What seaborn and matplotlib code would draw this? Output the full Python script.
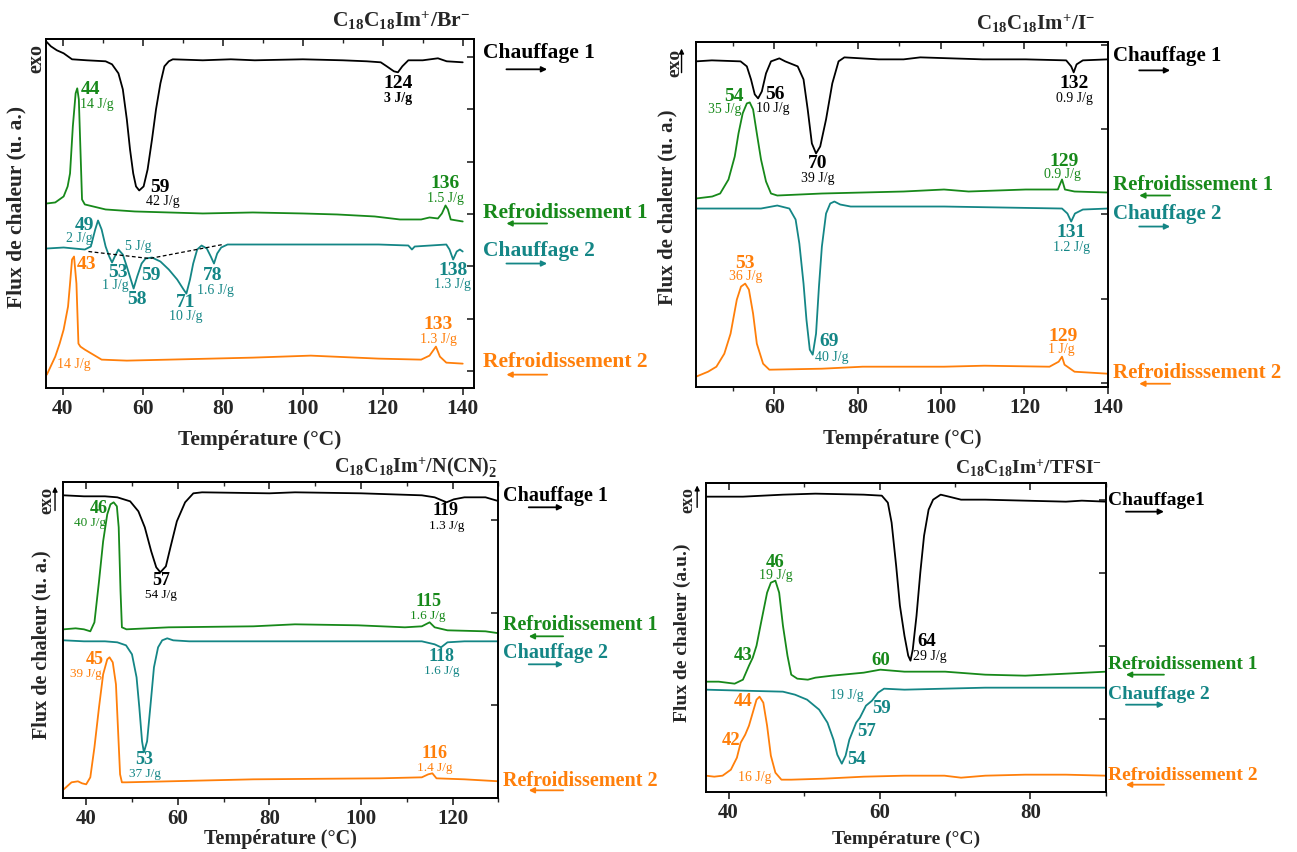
import numpy as np
import pandas as pd
import matplotlib
matplotlib.use("Agg")
import matplotlib.pyplot as plt
import seaborn as sns

# --- style ---
sns.set_style("ticks")
plt.rcParams['font.family'] = ['Liberation Serif', 'DejaVu Serif']
plt.rcParams['font.weight'] = 'bold'
plt.rcParams['axes.labelweight'] = 'bold'
plt.rcParams['mathtext.fontset'] = 'custom'
plt.rcParams['mathtext.rm'] = 'Liberation Serif:bold'
plt.rcParams['mathtext.it'] = 'Liberation Serif:bold'
plt.rcParams['mathtext.bf'] = 'Liberation Serif:bold'
plt.rcParams['mathtext.default'] = 'rm'

COLORS = {"c1": "#000000", "r1": "#17891a", "c2": "#148686", "r2": "#ff7f0a"}

# ============ data (temperature in °C, heat flow in arbitrary units) ============
# --- C18C18Im+/Br- ---
br_c1_T = [35.8, 37.0, 38.5, 40.2, 42.3, 46.0, 50.7, 52.3, 53.9, 55.0, 56.0, 56.8, 57.6, 58.3, 59.1, 60.2,
           61.2, 62.3, 63.3, 64.4, 65.4, 66.5, 67.5, 75.0, 82.0, 88.0, 100.0, 110.0, 116.0, 119.5, 121.0,
           122.8, 123.8, 124.9, 126.4, 130.0, 133.8, 136.0, 140.0]
br_c1_y = [346, 341, 337, 334, 328, 327, 326, 323, 314, 298, 268, 238, 214, 201, 197, 201,
           218, 248, 278, 304, 321, 326, 328, 327, 328, 327, 328, 327, 326, 325, 321,
           316, 315, 321, 327, 327, 329, 326, 325]
br_r1_T = [36.0, 38.1, 40.2, 41.2, 41.8, 42.5, 43.2, 43.6, 44.0, 44.4, 44.8, 45.5, 50.7, 58.0, 66.5, 75.0,
           87.5, 100.0, 108.6, 118.0, 124.3, 129.6, 131.7, 133.8, 134.8, 135.7, 136.3, 137.0, 140.0]
br_r1_y = [184, 185, 191, 201, 214, 261, 294, 299, 288, 238, 188, 183, 178, 176, 175, 174,
           175, 174, 173, 171, 168, 168, 170, 169, 174, 182, 178, 168, 166]
br_c2_T = [36.0, 40.2, 45.5, 47.0, 48.1, 48.8, 49.7, 50.7, 51.6, 52.3, 53.0, 53.9, 55.0, 56.0, 57.0, 57.7,
           58.6, 59.7, 60.7, 62.3, 64.4, 66.5, 68.6, 70.2, 70.9, 71.8, 72.6, 73.6, 74.7, 76.0, 77.0, 77.8,
           78.6, 79.6, 81.2, 98.0, 119.0, 126.4, 127.3, 128.0, 135.9, 136.7, 137.6, 138.5, 139.3, 140.0]
br_c2_y = [139, 140, 138, 141, 158, 167, 158, 141, 131, 125, 131, 138, 133, 121, 108, 99,
           111, 124, 129, 130, 126, 118, 108, 98, 94, 108, 124, 138, 142, 139, 131, 124,
           134, 140, 143, 143, 143, 142, 138, 141, 143, 138, 128, 136, 138, 136]
br_r2_T = [36.0, 38.1, 39.2, 40.2, 41.3, 41.8, 42.3, 42.8, 43.4, 43.9, 44.4, 45.5, 47.6, 49.7, 56.0, 66.5,
           77.0, 87.5, 102.0, 119.0, 129.6, 131.7, 133.3, 134.3, 135.9, 140.0]
br_r2_y = [13, 31, 44, 58, 81, 104, 128, 131, 104, 44, 41, 38, 33, 28, 27, 28,
           29, 30, 32, 29, 28, 32, 41, 31, 25, 24]
br_base_T = [46.4, 61.7, 80.0]
br_base_y = [136, 129, 143]

# --- C18C18Im+/I- ---
i_c1_T = [41.2, 45.0, 51.9, 53.4, 54.4, 55.3, 56.1, 57.0, 58.0, 59.2, 61.2, 62.6, 65.6, 67.0, 68.0, 69.0,
          70.0, 71.0, 72.4, 73.9, 75.4, 76.8, 85.0, 91.0, 95.0, 110.0, 120.3, 130.0, 131.2, 131.8, 132.5,
          134.0, 140.0]
i_c1_y = [325, 326, 325, 320, 307, 292, 288, 295, 313, 325, 328, 325, 320, 307, 277, 243,
          233, 240, 267, 303, 325, 329, 327, 327, 329, 327, 327, 326, 320, 314, 322,
          326, 327]
i_r1_T = [41.2, 45.1, 47.0, 49.0, 50.5, 51.4, 52.4, 53.4, 54.1, 54.9, 55.8, 56.8, 58.0, 59.2, 60.7, 71.4,
          81.2, 91.0, 100.7, 106.6, 120.3, 128.0, 129.0, 129.7, 132.0, 140.0]
i_r1_y = [188, 190, 193, 207, 230, 253, 273, 283, 284, 277, 253, 227, 205, 193, 191, 193,
          194, 195, 197, 195, 197, 197, 207, 197, 195, 194]
i_c2_T = [41.2, 56.8, 60.7, 63.6, 65.1, 66.0, 67.0, 67.7, 68.5, 69.2, 70.0, 70.7, 71.4, 72.4, 73.4, 74.4,
          75.8, 78.3, 100.7, 129.0, 130.3, 131.2, 132.1, 134.0, 140.0]
i_c2_y = [178, 178, 181, 178, 167, 143, 103, 67, 37, 32, 53, 100, 140, 173, 183, 185,
          182, 180, 180, 178, 173, 165, 173, 177, 178]
i_r2_T = [41.2, 44.1, 46.1, 48.0, 49.5, 51.0, 52.0, 53.0, 53.9, 54.9, 55.8, 57.3, 58.8, 71.4, 81.2, 100.7,
          110.4, 126.0, 128.2, 129.0, 129.6, 132.0, 140.0]
i_r2_y = [10, 15, 20, 33, 53, 87, 100, 103, 97, 73, 43, 23, 17, 18, 20, 20,
          21, 20, 25, 30, 22, 15, 13]

# --- C18C18Im+/N(CN)2- ---
n_c1_T = [35.1, 39.5, 44.1, 46.8, 49.6, 51.4, 52.8, 54.2, 55.3, 56.2, 57.4, 58.4, 59.8, 61.6, 63.4, 65.3,
          80.0, 85.6, 100.0, 113.3, 116.1, 118.7, 120.3, 122.6, 127.2, 130.2]
n_c1_y = [303, 302, 302, 301, 297, 287, 271, 247, 231, 226, 232, 251, 277, 296, 305, 306,
          305, 306, 305, 303, 301, 296, 299, 301, 301, 297]
n_r1_T = [35.1, 37.7, 39.5, 40.9, 41.8, 42.8, 43.7, 44.6, 45.3, 46.0, 46.7, 47.1, 47.5, 47.8, 48.8, 58.0,
          76.5, 85.6, 99.4, 109.6, 113.3, 115.0, 116.1, 118.9, 127.2, 130.2]
n_r1_y = [169, 170, 169, 167, 176, 217, 257, 284, 294, 296, 292, 271, 207, 171, 169, 171,
          172, 174, 173, 171, 172, 176, 171, 168, 167, 165]
n_c2_T = [35.1, 39.5, 44.1, 46.8, 48.7, 50.0, 51.0, 51.6, 52.2, 52.6, 53.3, 54.0, 54.8, 55.7, 56.6, 57.7,
          59.0, 62.5, 85.6, 113.3, 116.1, 117.5, 118.9, 122.6, 130.2]
n_c2_y = [158, 157, 157, 156, 153, 144, 121, 91, 57, 46, 57, 91, 131, 151, 158, 160,
          158, 157, 157, 157, 154, 151, 156, 157, 157]
n_r2_T = [35.1, 36.8, 38.2, 39.1, 40.0, 40.9, 41.8, 42.8, 43.7, 44.6, 45.1, 45.8, 46.5, 46.9, 47.4, 47.8,
          48.8, 58.0, 76.5, 104.2, 113.3, 114.7, 115.6, 116.5, 122.6, 130.2]
n_r2_y = [9, 16, 17, 15, 14, 21, 51, 91, 124, 139, 141, 136, 114, 74, 24, 16,
          16, 17, 19, 20, 21, 24, 25, 20, 19, 17]

# --- C18C18Im+/TFSI- ---
t_c1_T = [37.0, 41.9, 47.2, 51.5, 57.9, 60.3, 61.1, 61.6, 62.2, 62.7, 63.3, 63.8, 64.1, 64.4, 64.9, 65.4,
          65.9, 66.5, 67.1, 68.1, 69.2, 70.8, 74.0, 79.3, 84.7, 86.8, 90.0]
t_c1_y = [295, 295, 297, 298, 297, 296, 289, 269, 226, 186, 156, 136, 131, 142, 176, 219,
          256, 282, 292, 297, 295, 292, 292, 291, 290, 291, 290]
t_r1_T = [37.0, 38.7, 40.8, 41.9, 42.7, 43.2, 43.7, 44.3, 45.1, 45.6, 46.2, 46.7, 47.2, 47.8, 48.3, 49.1,
          50.5, 51.5, 53.7, 57.9, 60.1, 63.3, 68.7, 74.0, 79.3, 84.7, 90.0]
t_r1_y = [110, 110, 108, 112, 126, 134, 146, 169, 199, 209, 211, 199, 166, 136, 117, 113,
          112, 114, 116, 119, 122, 120, 120, 117, 116, 118, 120]
t_c2_T = [37.0, 41.9, 47.2, 48.8, 50.4, 52.0, 53.1, 53.9, 54.4, 55.0, 55.5, 56.0, 56.9, 57.4, 58.2, 59.0,
          59.8, 60.6, 63.3, 68.6, 74.0, 84.7, 90.0]
t_c2_y = [102, 101, 100, 97, 92, 82, 69, 52, 37, 28, 36, 52, 69, 74, 86, 91,
          99, 103, 102, 103, 104, 104, 104]
t_r2_T = [37.0, 38.1, 39.2, 40.3, 41.1, 41.6, 42.2, 42.7, 43.2, 43.7, 44.1, 44.6, 45.1, 45.6, 46.2, 47.0,
          48.3, 52.6, 57.9, 63.3, 68.6, 70.8, 74.0, 79.3, 84.7, 90.0]
t_r2_y = [16, 15, 16, 22, 34, 49, 57, 66, 79, 92, 95, 89, 66, 36, 19, 12,
          12, 13, 15, 16, 16, 14, 16, 17, 17, 16]

# peak labels: (text, T, y, scan, kind)  kind: n = temperature, j = enthalpy
br_labels = [("124", 123.8, 304, "c1", "n"), ("3 J/g", 123.8, 289, "c1", "jb"),
             ("59", 64.4, 200, "c1", "n"), ("42 J/g", 64.9, 186, "c1", "j"),
             ("44", 47.0, 298, "r1", "n"), ("14 J/g", 48.6, 283, "r1", "j"),
             ("136", 135.7, 204, "r1", "n"), ("1.5 J/g", 135.7, 189, "r1", "j"),
             ("49", 45.5, 162, "c2", "n"), ("2 J/g", 44.2, 149, "c2", "j"),
             ("5 J/g", 58.9, 141, "c2", "j"),
             ("53", 53.7, 115, "c2", "n"), ("1 J/g", 53.0, 102, "c2", "j"),
             ("58", 58.6, 88, "c2", "n"), ("59", 62.0, 112, "c2", "n"),
             ("71", 70.7, 85, "c2", "n"), ("10 J/g", 70.7, 71, "c2", "j"),
             ("78", 77.5, 112, "c2", "n"), ("1.6 J/g", 78.1, 97, "c2", "j"),
             ("138", 137.5, 117, "c2", "n"), ("1.3 J/g", 137.5, 103, "c2", "j"),
             ("43", 46.0, 123, "r2", "n"), ("14 J/g", 42.8, 23, "r2", "j"),
             ("133", 133.8, 63, "r2", "n"), ("1.3 J/g", 133.9, 48, "r2", "j")]
i_labels = [("56", 60.2, 292, "c1", "n"), ("10 J/g", 59.7, 278, "c1", "j"),
            ("70", 70.3, 223, "c1", "n"), ("39 J/g", 70.5, 208, "c1", "j"),
            ("132", 131.8, 303, "c1", "n"), ("0.9 J/g", 132.0, 288, "c1", "j"),
            ("54", 50.4, 290, "r1", "n"), ("35 J/g", 48.1, 277, "r1", "j"),
            ("129", 129.4, 225, "r1", "n"), ("0.9 J/g", 129.2, 212, "r1", "j"),
            ("131", 131.2, 154, "c2", "n"), ("1.2 J/g", 131.2, 139, "c2", "j"),
            ("69", 73.1, 45, "c2", "n"), ("40 J/g", 73.8, 29, "c2", "j"),
            ("53", 52.9, 123, "r2", "n"), ("36 J/g", 53.1, 110, "r2", "j"),
            ("129", 129.2, 50, "r2", "n"), ("1 J/g", 128.9, 37, "r2", "j")]
n_labels = [("57", 56.4, 218, "c1", "n"), ("54 J/g", 56.4, 203, "c1", "j"),
            ("119", 118.4, 288, "c1", "n"), ("1.3 J/g", 118.8, 272, "c1", "j"),
            ("46", 42.8, 290, "r1", "n"), ("40 J/g", 40.9, 275, "r1", "j"),
            ("115", 114.7, 197, "r1", "n"), ("1.6 J/g", 114.7, 182, "r1", "j"),
            ("118", 117.7, 142, "c2", "n"), ("1.6 J/g", 117.7, 127, "c2", "j"),
            ("53", 52.6, 39, "c2", "n"), ("37 J/g", 52.9, 24, "c2", "j"),
            ("45", 41.8, 139, "r2", "n"), ("39 J/g", 40.0, 124, "r2", "j"),
            ("116", 116.1, 45, "r2", "n"), ("1.4 J/g", 116.1, 30, "r2", "j")]
t_labels = [("64", 66.2, 150, "c1", "n"), ("29 J/g", 66.7, 135, "c1", "j"),
            ("46", 46.2, 229, "r1", "n"), ("19 J/g", 46.2, 216, "r1", "j"),
            ("43", 41.9, 136, "r1", "n"), ("60", 60.1, 131, "r1", "n"),
            ("19 J/g", 55.6, 96, "c2", "j"), ("59", 60.3, 83, "c2", "n"),
            ("57", 58.3, 60, "c2", "n"), ("54", 56.9, 32, "c2", "n"),
            ("44", 41.9, 90, "r2", "n"), ("42", 40.3, 51, "r2", "n"),
            ("16 J/g", 43.5, 14, "r2", "j")]

# scan names on the right: (text, scan, y_text, y_arrow)
br_scans = [("Chauffage 1", "c1", 334, 318), ("Refroidissement 1", "r1", 174, 164),
            ("Chauffage 2", "c2", 137, 124), ("Refroidissement 2", "r2", 26, 13)]
i_scans = [("Chauffage 1", "c1", 330, 316), ("Refroidissement 1", "r1", 202, 191),
           ("Chauffage 2", "c2", 173, 160), ("Refroidisssement 2", "r2", 14, 3)]
n_scans = [("Chauffage 1", "c1", 302, 291), ("Refroidissement 1", "r1", 173, 162),
           ("Chauffage 2", "c2", 145, 134), ("Refroidissement 2", "r2", 17, 8)]
t_scans = [("Chauffage1", "c1", 291, 280), ("Refroidissement 1", "r1", 127, 117),
           ("Chauffage 2", "c2", 97, 87), ("Refroidissement 2", "r2", 16, 7)]


def make_df(curves):
    frames = []
    for scan, (T, y) in curves.items():
        frames.append(pd.DataFrame({"T": T, "flux": y, "scan": scan}))
    return pd.concat(frames, ignore_index=True)


panels = [
    dict(rect=[0.0355, 0.5450, 0.3302, 0.4089], xlim=(35.8, 142.9), ylim=(0, 348), major=20, minor=10,
         df=make_df({"c1": (br_c1_T, br_c1_y), "r1": (br_r1_T, br_r1_y),
                     "c2": (br_c2_T, br_c2_y), "r2": (br_r2_T, br_r2_y)}),
         labels=br_labels, scans=br_scans, yt=np.arange(16.7, 348, 52.3),
         title=r"C$_{18}$C$_{18}$Im$^{+}$/Br$^{-}$", tx=0.99, ty=1.035,
         ylab="Flux de chaleur (u. a.)", ylx=-0.068, yly=0.52, fs=15.5, tfs=15.5, nfs=14, jfs=10,
         exo=(-0.022, 0.946), exo_arrow=None, lx=1.02, ax0=1.075, ax1=1.17, lpad=8),
    dict(rect=[0.5366, 0.5461, 0.3179, 0.4042], xlim=(41.2, 140.1), ylim=(0, 344), major=20, minor=10,
         df=make_df({"c1": (i_c1_T, i_c1_y), "r1": (i_r1_T, i_r1_y),
                     "c2": (i_c2_T, i_c2_y), "r2": (i_r2_T, i_r2_y)}),
         labels=i_labels, scans=i_scans, yt=np.arange(3.3, 344, 84.6),
         title=r"C$_{18}$C$_{18}$Im$^{+}$/I$^{-}$", tx=0.968, ty=1.037,
         ylab="Flux de chaleur (u. a.)", ylx=-0.068, yly=0.52, fs=15.0, tfs=15.0, nfs=14, jfs=10,
         exo=(-0.051, 0.94), exo_arrow=(-0.035, 0.904, 0.99), lx=1.011, ax0=1.075, ax1=1.15, lpad=8),
    dict(rect=[0.0488, 0.0630, 0.3354, 0.3709], xlim=(35.0, 130.0), ylim=(0, 316), major=20, minor=10,
         df=make_df({"c1": (n_c1_T, n_c1_y), "r1": (n_r1_T, n_r1_y),
                     "c2": (n_c2_T, n_c2_y), "r2": (n_r2_T, n_r2_y)}),
         labels=n_labels, scans=n_scans, yt=np.arange(0.3, 316, 92.7),
         title=r"C$_{18}$C$_{18}$Im$^{+}$/N(CN)$_{2}^{-}$", tx=1.0, ty=1.03,
         ylab="Flux de chaleur (u. a.)", ylx=-0.049, yly=0.485, fs=14.5, tfs=15.0, nfs=13, jfs=9.5,
         exo=(-0.038, 0.944), exo_arrow=(-0.019, 0.902, 0.995), lx=1.011, ax0=1.07, ax1=1.149, lpad=0),
    dict(rect=[0.5443, 0.0708, 0.3084, 0.3627], xlim=(37.0, 90.0), ylim=(0, 309), major=20, minor=10,
         df=make_df({"c1": (t_c1_T, t_c1_y), "r1": (t_r1_T, t_r1_y),
                     "c2": (t_c2_T, t_c2_y), "r2": (t_r2_T, t_r2_y)}),
         labels=t_labels, scans=t_scans, yt=np.arange(0, 309, 73),
         title=r"C$_{18}$C$_{18}$Im$^{+}$/TFSI$^{-}$", tx=0.99, ty=1.028,
         ylab="Flux de chaleur (a.u.)", ylx=-0.06, yly=0.514, fs=14.0, tfs=15.0, nfs=13.5, jfs=10,
         exo=(-0.045, 0.944), exo_arrow=(-0.022, 0.911, 1.0), lx=1.004, ax0=1.05, ax1=1.145, lpad=6),
]

fig = plt.figure(figsize=(12.97, 8.52), dpi=100)

for idx, p in enumerate(panels):
    ax = fig.add_axes(p["rect"])
    sns.lineplot(data=p["df"], x="T", y="flux", hue="scan", palette=COLORS, sort=False,
                 estimator=None, legend=False, linewidth=1.3, ax=ax)
    if idx == 0:
        ax.plot(br_base_T, br_base_y, color="black", lw=0.9, ls=(0, (3, 2)))
    ax.set_xlim(*p["xlim"])
    ax.set_ylim(*p["ylim"])
    fs = p["fs"]

    # ticks: bottom outward, top inward, right inward without labels
    ax.xaxis.set_major_locator(plt.MultipleLocator(p["major"]))
    ax.xaxis.set_minor_locator(plt.MultipleLocator(p["minor"]))
    ax.tick_params(axis="x", which="major", direction="out", length=5, width=1.2, labelsize=p["tfs"], pad=3)
    ax.tick_params(axis="x", which="minor", direction="out", length=3, width=1.0)
    for lab in ax.get_xticklabels():
        lab.set_fontweight("bold")
    sec = ax.secondary_xaxis("top")
    sec.xaxis.set_major_locator(plt.MultipleLocator(p["major"]))
    sec.xaxis.set_minor_locator(plt.MultipleLocator(p["minor"]))
    sec.tick_params(axis="x", which="major", direction="in", length=5, width=1.2, labeltop=False)
    sec.tick_params(axis="x", which="minor", direction="in", length=3, width=1.0)
    sec.spines["top"].set_linewidth(1.4)
    ax.yaxis.tick_right()
    ax.set_yticks(p["yt"])
    ax.tick_params(axis="y", direction="in", length=5, width=1.2, labelright=False, labelleft=False)
    for s in ax.spines.values():
        s.set_linewidth(1.4)
        s.set_color("black")

    ax.set_xlabel("Température (°C)", fontsize=fs, fontweight="bold", labelpad=p["lpad"])
    ax.set_ylabel("")
    ax.text(p["ylx"], p["yly"], p["ylab"], transform=ax.transAxes, rotation=90, ha="center",
            va="center", fontsize=fs, fontweight="bold")
    ax.text(p["exo"][0], p["exo"][1], "exo", transform=ax.transAxes, rotation=90, ha="center",
            va="center", fontsize=fs - 1, fontweight="bold")
    if p["exo_arrow"] is not None:
        xa, y0, y1 = p["exo_arrow"]
        ax.annotate("", xy=(xa, y1), xytext=(xa, y0), xycoords="axes fraction",
                    arrowprops=dict(arrowstyle="-|>", color="black", lw=1.0, mutation_scale=7),
                    annotation_clip=False)
    ax.text(p["tx"], p["ty"], p["title"], transform=ax.transAxes, ha="right", va="baseline",
            fontsize=fs, fontweight="bold")

    # peak labels
    for text, T, y, scan, kind in p["labels"]:
        if kind == "n":
            ax.text(T, y, text, color=COLORS[scan], fontsize=p["nfs"], fontweight="bold",
                    ha="center", va="center")
        else:
            ax.text(T, y, text, color=COLORS[scan], fontsize=p["jfs"], ha="center", va="center",
                    fontweight="bold" if kind == "jb" else "normal")

    # scan names + direction arrows
    tr = ax.get_yaxis_transform()
    for text, scan, yt_, ya in p["scans"]:
        ax.text(p["lx"], yt_, text, transform=tr, color=COLORS[scan], fontsize=fs, fontweight="bold",
                ha="left", va="center", clip_on=False)
        if scan in ("c1", "c2"):
            start, end = p["ax0"], p["ax1"]
        else:
            start, end = p["ax1"], p["ax0"]
        ax.annotate("", xy=(end, ya), xytext=(start, ya), xycoords=tr,
                    arrowprops=dict(arrowstyle="-|>", color=COLORS[scan], lw=1.3, mutation_scale=8,
                                    shrinkA=0, shrinkB=0),
                    annotation_clip=False)

fig.savefig("out.png", dpi=100)
